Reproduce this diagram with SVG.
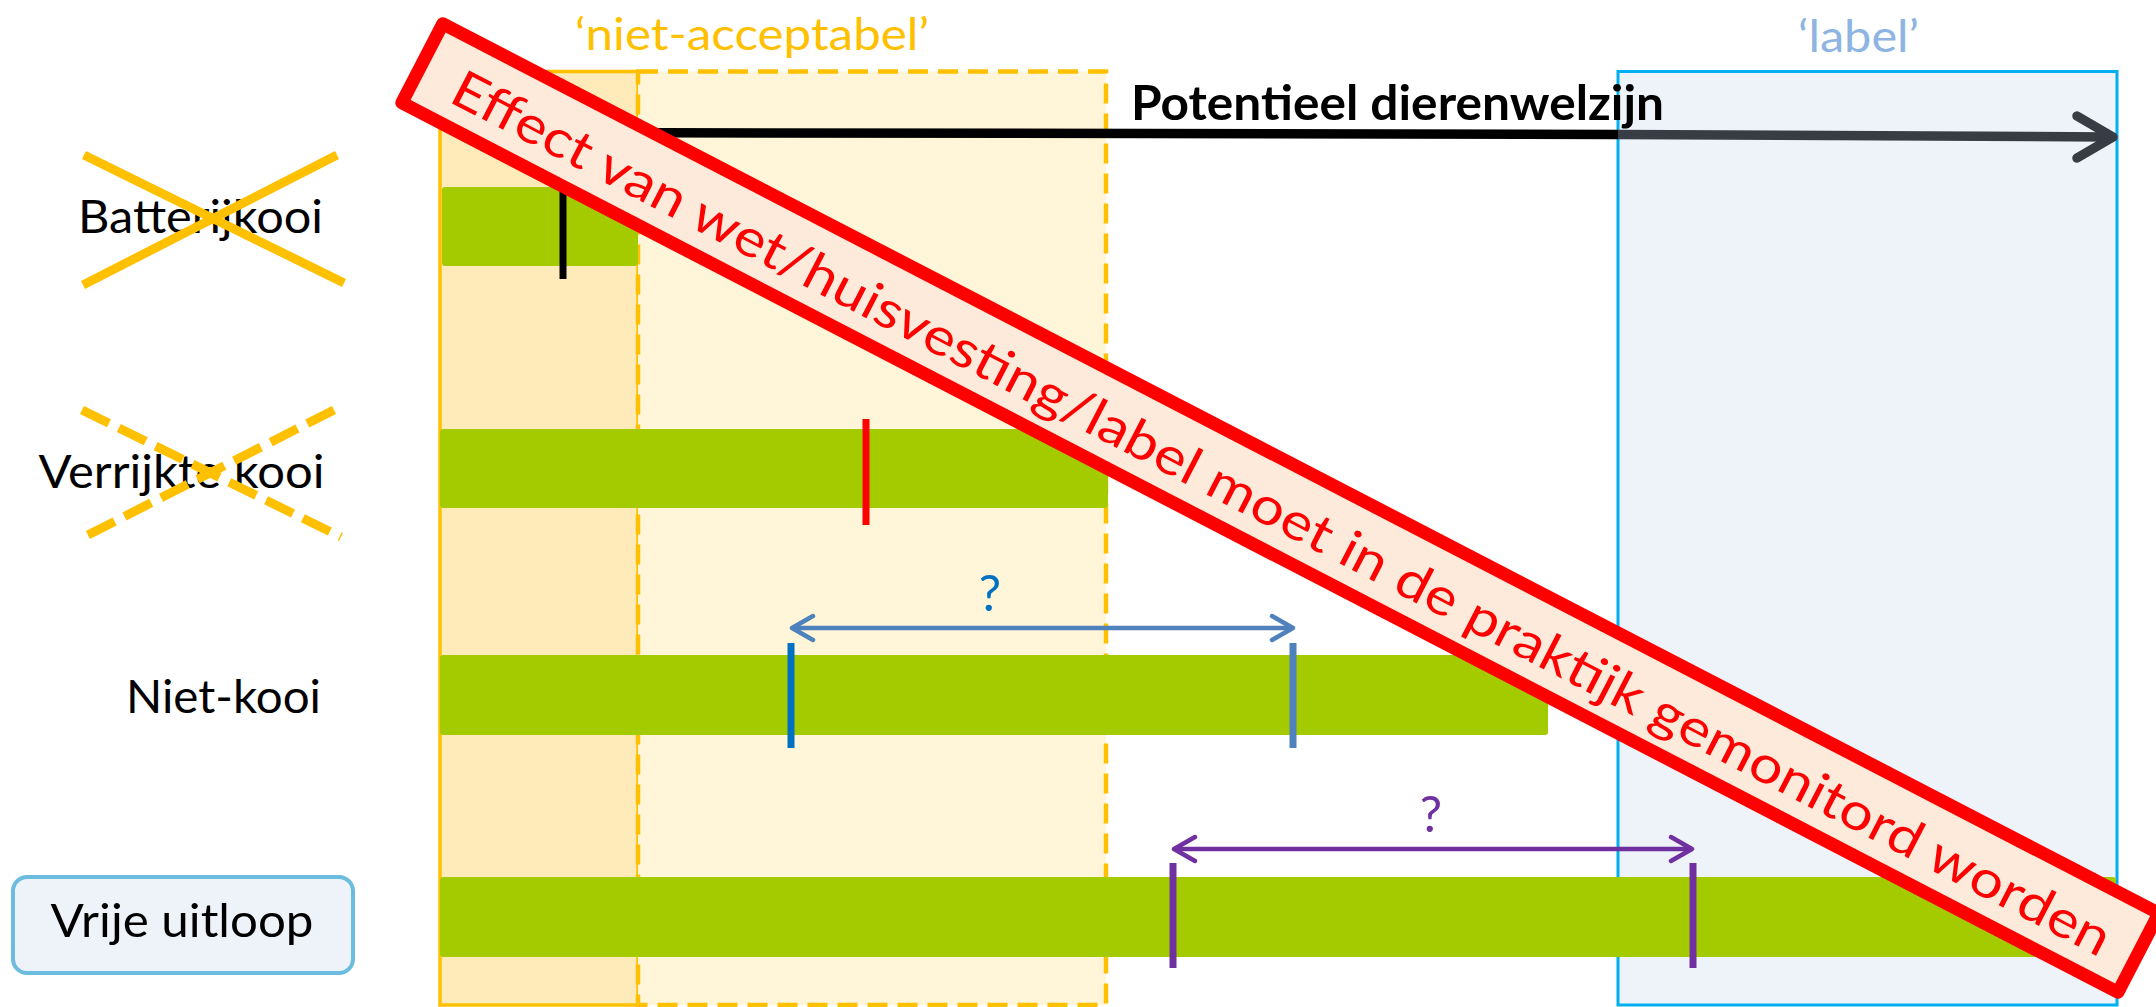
<svg xmlns="http://www.w3.org/2000/svg" width="2156" height="1007" viewBox="0 0 2156 1007">
  <style>
    .lbl { font-family: Lato, "Liberation Sans", sans-serif; font-size: 47px; fill: #000000; }
    .head { font-family: Lato, "Liberation Sans", sans-serif; font-size: 44px; }
    .bar { fill: #A4CB00; }
    .tick { stroke-width: 7; fill: none; }
    .cross { stroke: #FFC000; stroke-width: 9; fill: none; }
    .q { font-family: Lato, "Liberation Sans", sans-serif; font-size: 50px; text-anchor: middle; }
  </style>
  <defs>
    <marker id="mBlue" markerUnits="userSpaceOnUse" markerWidth="30" markerHeight="30" refX="24" refY="15" orient="auto-start-reverse">
      <path d="M3,3 L24,15 L3,27" fill="none" stroke="#4F81BD" stroke-width="4.5" stroke-linecap="round" stroke-linejoin="round"/>
    </marker>
    <marker id="mPurple" markerUnits="userSpaceOnUse" markerWidth="30" markerHeight="30" refX="24" refY="15" orient="auto-start-reverse">
      <path d="M3,3 L24,15 L3,27" fill="none" stroke="#7030A0" stroke-width="4.5" stroke-linecap="round" stroke-linejoin="round"/>
    </marker>
  </defs>
  <rect width="2156" height="1007" fill="#FFFFFF"/>

  <g id="zones">
    <rect id="zone-solid" x="440" y="71.5" width="198" height="933.5" fill="#FFEBB9" stroke="#FFC000" stroke-width="3.5"/>
    <rect id="zone-niet-acceptabel" x="638" y="71.5" width="468" height="933.5" fill="#FFF5D8" stroke="#FFC000" stroke-width="4.5" stroke-dasharray="20 10"/>
    <rect id="zone-label" x="1618" y="71.5" width="499" height="933.5" fill="#EEF3FA" stroke="#00B0F0" stroke-width="3"/>
    <text class="head" x="575" y="50" fill="#FFC000" textLength="354" lengthAdjust="spacingAndGlyphs">‘niet-acceptabel’</text>
    <text class="head" x="1798" y="52" fill="#8DB4E2" textLength="121" lengthAdjust="spacingAndGlyphs">‘label’</text>
  </g>

  <g id="bars">
    <rect id="bar-batterijkooi" class="bar" x="442" y="187" width="196" height="79" rx="3"/>
    <rect id="bar-verrijkte" class="bar" x="440" y="429" width="668" height="79" rx="3"/>
    <rect id="bar-nietkooi" class="bar" x="440" y="655" width="1108" height="80" rx="3"/>
    <rect id="bar-vrije" class="bar" x="440" y="877" width="1676" height="80" rx="3"/>
  </g>

  <g id="connectors">
    <line x1="563" y1="190" x2="563" y2="279" class="tick" stroke="#000000"/>
    <line x1="866" y1="419" x2="866" y2="525" class="tick" stroke="#FF0000"/>
    <line x1="791" y1="643" x2="791" y2="748" class="tick" stroke="#0070C0"/>
    <line x1="1293" y1="643" x2="1293" y2="748" class="tick" stroke="#4F81BD"/>
    <line x1="792" y1="628" x2="1293" y2="628" stroke="#4F81BD" stroke-width="4.5" marker-start="url(#mBlue)" marker-end="url(#mBlue)"/>
    <line x1="1173" y1="863" x2="1173" y2="968" class="tick" stroke="#7030A0"/>
    <line x1="1693" y1="863" x2="1693" y2="968" class="tick" stroke="#7030A0"/>
    <line x1="1174" y1="849" x2="1692" y2="849" stroke="#7030A0" stroke-width="4.5" marker-start="url(#mPurple)" marker-end="url(#mPurple)"/>
    <line x1="563" y1="132.5" x2="1618" y2="134.5" stroke="#000000" stroke-width="9.5"/>
    <line x1="1618" y1="134.5" x2="2110" y2="137" stroke="#383C44" stroke-width="9.5"/>
    <polyline points="2077,116 2113,137 2077,158" fill="none" stroke="#383C44" stroke-width="9.5" stroke-linecap="round" stroke-linejoin="round"/>
  </g>

  <g id="axis-label">
    <text x="1131" y="120" font-family="Lato, 'Liberation Sans', sans-serif" font-size="47" font-weight="bold" fill="#000000" textLength="533" lengthAdjust="spacingAndGlyphs">Potentieel dierenwelzijn</text>
  </g>
  <g id="q-blue"><text class="q" x="990" y="611" fill="#0070C0">?</text></g>
  <g id="q-purple"><text class="q" x="1431" y="832" fill="#7030A0">?</text></g>

  <g id="node-batterijkooi">
    <text class="lbl" x="78" y="233" textLength="245" lengthAdjust="spacingAndGlyphs">Batterijkooi</text>
    <line class="cross" x1="84" y1="155" x2="344" y2="283"/>
    <line class="cross" x1="337" y1="155" x2="83" y2="285"/>
  </g>
  <g id="node-verrijkte-kooi">
    <text class="lbl" x="38.5" y="488" textLength="286" lengthAdjust="spacingAndGlyphs">Verrijkte kooi</text>
    <line class="cross" x1="82" y1="410" x2="341" y2="537" stroke-dasharray="30 11"/>
    <line class="cross" x1="334" y1="410" x2="80" y2="539" stroke-dasharray="30 11"/>
  </g>
  <g id="node-niet-kooi">
    <text class="lbl" x="126" y="713" textLength="195" lengthAdjust="spacingAndGlyphs">Niet-kooi</text>
  </g>
  <g id="node-vrije-uitloop">
    <rect x="13" y="877" width="340" height="96" rx="14" fill="#EEF3FA" stroke="#6BBCDF" stroke-width="4"/>
    <text class="lbl" x="50.5" y="937" textLength="263" lengthAdjust="spacingAndGlyphs">Vrije uitloop</text>
  </g>

  <g id="banner" transform="translate(440,15) rotate(27.4)">
    <rect x="6.5" y="6.5" width="1933" height="89" fill="#FDEADA" stroke="#FF0000" stroke-width="13" stroke-linejoin="round"/>
    <text x="46" y="73" font-family="Lato, 'Liberation Sans', sans-serif" font-size="52" fill="#FF0000" textLength="1861" lengthAdjust="spacingAndGlyphs">Effect van wet/huisvesting/label moet in de praktijk gemonitord worden</text>
  </g>
</svg>
